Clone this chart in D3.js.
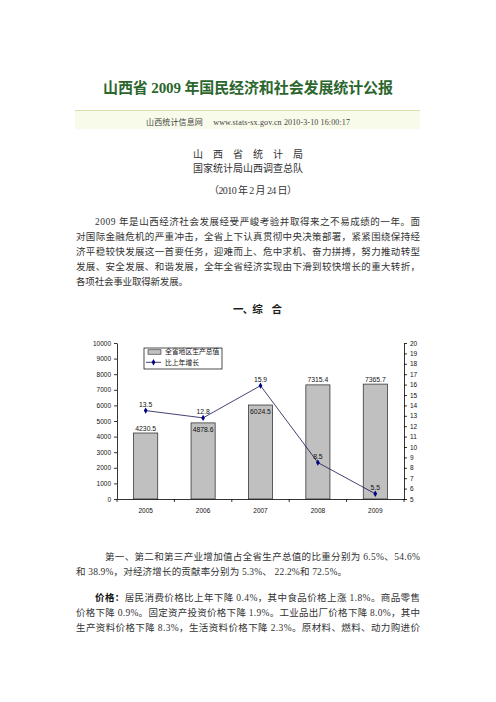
<!DOCTYPE html>
<html>
<head>
<meta charset="utf-8">
<script src="https://cdn.jsdelivr.net/npm/d3@7"></script>
<style>
  body { margin: 0; background: #fff; }
</style>
</head>
<body>
<script>
// chart values
var years = ["2005", "2006", "2007", "2008", "2009"];
var gdp = [4230.5, 4878.6, 6024.5, 7315.4, 7365.7];
var growth = [13.5, 12.8, 15.9, 8.5, 5.5];
var gdpTicks = [0, 1000, 2000, 3000, 4000, 5000, 6000, 7000, 8000, 9000, 10000];
var growthTicks = [5, 6, 7, 8, 9, 10, 11, 12, 13, 14, 15, 16, 17, 18, 19, 20];
var seriesNames = ["全省地区生产总值", "比上年增长"];
var labelInside = [false, true, true, false, false];

// page text
var title = "山西省 2009 年国民经济和社会发展统计公报";
var sourceLine = "山西统计信息网　 www.stats-sx.gov.cn 2010-3-10 16:00:17";
var issuer = ["山　西　省　统　计　局", "国家统计局山西调查总队"];
var dateLine = "（2010 年 2 月 24 日）";
var para1 = [
  "2009 年是山西经济社会发展经受严峻考验并取得来之不易成绩的一年。面",
  "对国际金融危机的严重冲击，全省上下认真贯彻中央决策部署，紧紧围绕保持经",
  "济平稳较快发展这一首要任务，迎难而上、危中求机、奋力拼搏，努力推动转型",
  "发展、安全发展、和谐发展，全年全省经济实现由下滑到较快增长的重大转折，",
  "各项社会事业取得新发展。"
];
var section = "一、综　合";
var para2 = [
  "第一、第二和第三产业增加值占全省生产总值的比重分别为 6.5%、54.6%",
  "和 38.9%，对经济增长的贡献率分别为 5.3%、  22.2%和 72.5%。"
];
var para3Head = "价格：";
var para3 = [
  "居民消费价格比上年下降 0.4%，其中食品价格上涨 1.8%。商品零售",
  "价格下降 0.9%。固定资产投资价格下降 1.9%。工业品出厂价格下降 8.0%，其中",
  "生产资料价格下降 8.3%，生活资料价格下降 2.3%。原材料、燃料、动力购进价"
];

var W = 496, H = 702;
var serif = "'Liberation Serif', 'Noto Sans CJK SC', serif";
var sans = "'Liberation Sans', 'Noto Sans CJK SC', sans-serif";

var svg = d3.select("body").append("svg")
    .attr("width", W)
    .attr("height", H);

svg.append("rect")
    .attr("width", W).attr("height", H)
    .attr("fill", "#fff");

// one line of text, stretched to a width when given
function textLine(str, x, y, size, len, anchor) {
  var t = svg.append("text")
      .attr("x", x)
      .attr("y", y)
      .attr("font-family", serif)
      .attr("font-size", size)
      .attr("fill", "#333")
      .attr("text-anchor", anchor || "start")
      .text(str);
  if (len) t.attr("textLength", len).attr("lengthAdjust", "spacing");
  return t;
}

// title
textLine(title, 248, 92.5, 15, 290, "middle")
    .attr("fill", "#2b662d")
    .attr("font-weight", "bold");

// source band
svg.append("rect")
    .attr("x", 75).attr("y", 110)
    .attr("width", 345).attr("height", 19)
    .attr("fill", "#f8fbea");
svg.append("line")
    .attr("x1", 75).attr("x2", 420)
    .attr("y1", 110.5).attr("y2", 110.5)
    .attr("stroke", "#d5e2b0");
textLine(sourceLine, 248, 125, 8, 204, "middle").attr("fill", "#444");

// issuer block
textLine(issuer[0], 248, 157.5, 10, 110, "middle");
textLine(issuer[1], 248, 172, 10, 110, "middle");
textLine(dateLine, 253, 194, 10, 88, "middle");

// first paragraph
var p1y = [224.5, 239.5, 254.5, 269.5, 284.5];
para1.forEach(function(s, i) {
  var x0 = i == 0 ? 95 : 76;
  var len = i < para1.length - 1 ? 420 - x0 : 112;
  textLine(s, x0, p1y[i], 9.5, len);
});

textLine(section, 257.5, 312.5, 10.5, 49, "middle")
    .attr("font-weight", "bold")
    .attr("fill", "#222");

// ---- chart ----
var plotL = 117, plotR = 404, plotT = 343, plotB = 499;

var x = d3.scaleBand().domain(years).range([plotL, plotR]);
var yL = d3.scaleLinear().domain([0, 10000]).range([plotB, plotT]);
var yR = d3.scaleLinear().domain([5, 20]).range([plotB, plotT]);
var bw = x.step() * 0.42;

var chart = svg.append("g");

var axL = chart.append("g")
    .attr("transform", "translate(" + plotL + ",0)")
    .call(d3.axisLeft(yL).tickValues(gdpTicks).tickFormat(d3.format("d"))
      .tickSize(3).tickSizeOuter(0).tickPadding(3));

var axR = chart.append("g")
    .attr("transform", "translate(" + plotR + ",0)")
    .call(d3.axisRight(yR).tickValues(growthTicks).tickFormat(d3.format("d"))
      .tickSize(3).tickSizeOuter(0).tickPadding(3));

var axB = chart.append("g")
    .attr("transform", "translate(0," + plotB + ")")
    .call(d3.axisBottom(x).tickSize(0).tickSizeOuter(0).tickPadding(9));

[axL, axR, axB].forEach(function(g) {
  g.attr("font-family", sans).attr("font-size", 6.5);
  g.selectAll("path, line").attr("stroke", "#000").attr("stroke-width", 0.8);
  g.selectAll("text").attr("fill", "#111");
});

// category boundary ticks on the x axis
chart.selectAll(".bt")
    .data(d3.range(years.length + 1))
    .enter().append("line")
    .attr("x1", function(i) { return plotL + i * x.step(); })
    .attr("x2", function(i) { return plotL + i * x.step(); })
    .attr("y1", plotB)
    .attr("y2", plotB + 3)
    .attr("stroke", "#000")
    .attr("stroke-width", 0.8);

// bars
chart.selectAll(".bar")
    .data(gdp)
    .enter().append("rect")
    .attr("x", function(d, i) { return x(years[i]) + (x.step() - bw) / 2; })
    .attr("y", function(d) { return yL(d); })
    .attr("width", bw)
    .attr("height", function(d) { return plotB - yL(d); })
    .attr("fill", "#c0c0c0")
    .attr("stroke", "#222")
    .attr("stroke-width", 0.7);

chart.selectAll(".barlab")
    .data(gdp)
    .enter().append("text")
    .attr("x", function(d, i) { return x(years[i]) + x.step() / 2; })
    .attr("y", function(d, i) { return labelInside[i] ? yL(d) + 9 : yL(d) - 2.5; })
    .attr("text-anchor", "middle")
    .attr("font-family", sans)
    .attr("font-size", 6.8)
    .attr("fill", "#111")
    .text(function(d) { return d.toFixed(1); });

// growth line
var pts = growth.map(function(v, i) {
  return [x(years[i]) + x.step() / 2, yR(v)];
});

chart.append("path")
    .attr("d", d3.line()(pts))
    .attr("fill", "none")
    .attr("stroke", "#141450")
    .attr("stroke-width", 0.8);

chart.selectAll(".mk")
    .data(pts)
    .enter().append("path")
    .attr("d", d3.symbol().type(d3.symbolDiamond).size(12))
    .attr("transform", function(p) { return "translate(" + p[0] + "," + p[1] + ")"; })
    .attr("fill", "#000080");

chart.selectAll(".linelab")
    .data(growth)
    .enter().append("text")
    .attr("x", function(d, i) { return pts[i][0]; })
    .attr("y", function(d, i) { return pts[i][1] - 4; })
    .attr("text-anchor", "middle")
    .attr("font-family", sans)
    .attr("font-size", 6.8)
    .attr("fill", "#111")
    .text(function(d) { return d.toFixed(1); });

// legend
var lg = chart.append("g");
lg.append("rect")
    .attr("x", 144).attr("y", 348)
    .attr("width", 78).attr("height", 21)
    .attr("fill", "#fff")
    .attr("stroke", "#000")
    .attr("stroke-width", 0.7);
lg.append("rect")
    .attr("x", 148).attr("y", 349.8)
    .attr("width", 13).attr("height", 4.4)
    .attr("fill", "#c0c0c0")
    .attr("stroke", "#000")
    .attr("stroke-width", 0.5);
lg.append("line")
    .attr("x1", 146).attr("x2", 161)
    .attr("y1", 362.3).attr("y2", 362.3)
    .attr("stroke", "#141450")
    .attr("stroke-width", 0.8);
lg.append("path")
    .attr("d", d3.symbol().type(d3.symbolDiamond).size(12))
    .attr("transform", "translate(153.5,362.3)")
    .attr("fill", "#000080");
lg.selectAll(".lt")
    .data(seriesNames)
    .enter().append("text")
    .attr("x", 165)
    .attr("y", function(d, i) { return i == 0 ? 354.3 : 364.8; })
    .attr("font-family", sans)
    .attr("font-size", 6.8)
    .attr("fill", "#111")
    .text(function(d) { return d; });

// ---- text after the chart ----
textLine(para2[0], 105, 559.5, 9.5, 315);
textLine(para2[1], 76, 574.5, 9.5, 271);

var p3y = [600.5, 615.5, 630.5];
var t3 = svg.append("text")
    .attr("x", 95).attr("y", p3y[0])
    .attr("font-family", serif)
    .attr("font-size", 9.5)
    .attr("fill", "#333")
    .attr("textLength", 325)
    .attr("lengthAdjust", "spacing");
t3.append("tspan").attr("font-weight", "bold").attr("fill", "#111").text(para3Head);
t3.append("tspan").text(para3[0]);
textLine(para3[1], 76, p3y[1], 9.5, 344);
textLine(para3[2], 76, p3y[2], 9.5, 344);
</script>
</body>
</html>
